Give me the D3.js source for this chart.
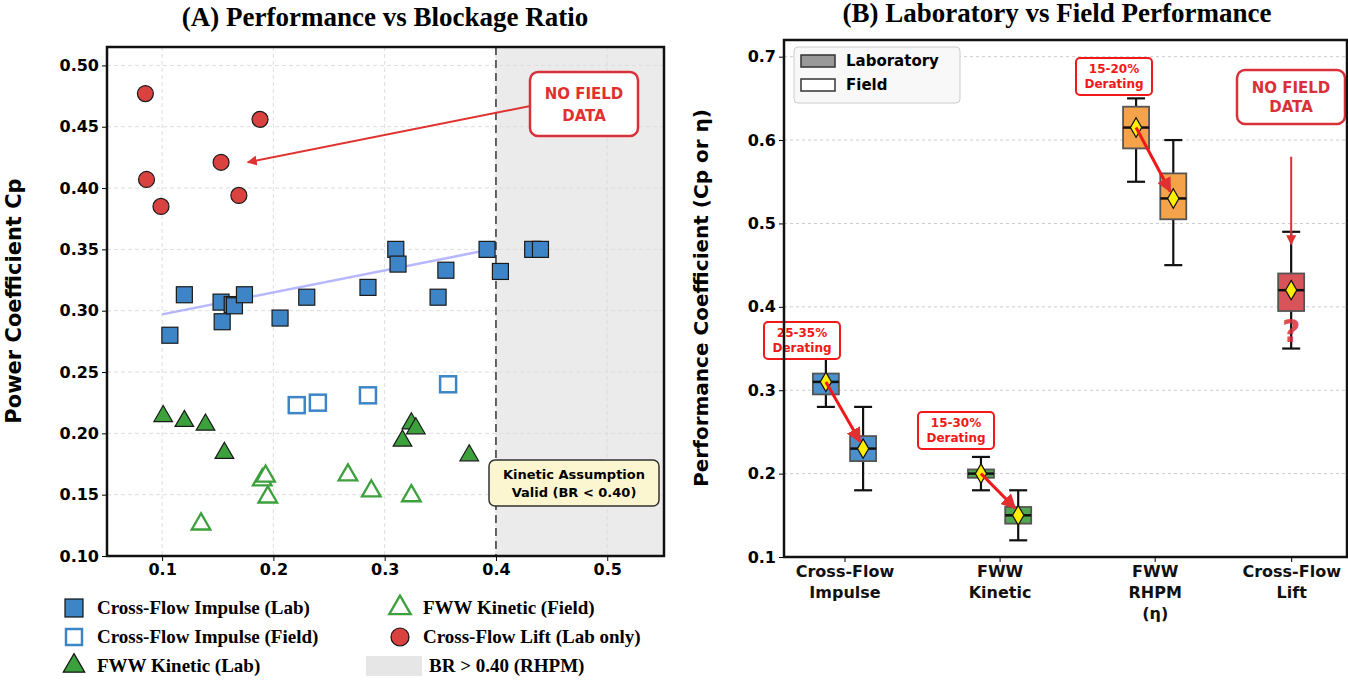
<!DOCTYPE html>
<html><head><meta charset="utf-8">
<script src="https://cdn.jsdelivr.net/npm/d3@7"></script>
<style>
body{margin:0;background:#fff;}
text{font-family:"DejaVu Sans",sans-serif;}
.serif{font-family:"Liberation Serif",serif;font-weight:bold;}
</style></head><body>
<svg id="chart" width="1348" height="687"></svg>
<script>
/* data */
const liftLab = [[0.085,0.477],[0.086,0.407],[0.099,0.385],[0.153,0.421],[0.169,0.394],[0.188,0.456]];
const impulseLab = [[0.107,0.280],[0.120,0.313],[0.153,0.307],[0.154,0.291],[0.163,0.305],[0.165,0.304],[0.174,0.313],[0.206,0.294],[0.230,0.311],[0.285,0.319],[0.310,0.350],[0.312,0.338],[0.348,0.311],[0.355,0.333],[0.392,0.350],[0.404,0.332],[0.433,0.350],[0.440,0.350]];
const impulseField = [[0.221,0.223],[0.240,0.225],[0.285,0.231],[0.357,0.240]];
const kineticLab = [[0.101,0.214],[0.120,0.210],[0.139,0.207],[0.156,0.184],[0.316,0.194],[0.324,0.208],[0.328,0.204],[0.376,0.182]];
const kineticField = [[0.135,0.126],[0.190,0.162],[0.193,0.165],[0.195,0.148],[0.267,0.166],[0.288,0.153],[0.324,0.149]];
const trend = [[0.10,0.297],[0.39,0.349]];
const xTicksA = [0.1,0.2,0.3,0.4,0.5];
const yTicksA = [0.10,0.15,0.20,0.25,0.30,0.35,0.40,0.45,0.50];

const categories = ["Cross-Flow\nImpulse","FWW\nKinetic","FWW\nRHPM\n(η)","Cross-Flow\nLift"];
// [group, kind, min, q1, median, q3, max, mean]
const boxStats = [
  [0,"lab",0.28,0.295,0.31,0.32,0.35,0.31],
  [0,"field",0.18,0.215,0.23,0.245,0.28,0.23],
  [1,"lab",0.18,0.195,0.20,0.205,0.22,0.20],
  [1,"field",0.12,0.14,0.15,0.16,0.18,0.15],
  [2,"lab",0.55,0.59,0.615,0.64,0.65,0.615],
  [2,"field",0.45,0.505,0.53,0.56,0.60,0.53],
  [3,"lab",0.35,0.395,0.42,0.44,0.49,0.42]
];
const boxColors = ["#4a90cc","#4fa84f","#f5a34b","#d9545a"];
const deratingLabels = [["25-35%","Derating"],["15-30%","Derating"],["15-20%","Derating"]];
const yTicksB = [0.1,0.2,0.3,0.4,0.5,0.6,0.7];

const svg = d3.select("#chart");
const defs = svg.append("defs");
function marker(id,color){
  defs.append("marker").attr("id",id).attr("viewBox","0 0 10 10").attr("refX",9).attr("refY",5)
    .attr("markerWidth",5).attr("markerHeight",5).attr("orient","auto")
    .append("path").attr("d","M0,0L10,5L0,10z").attr("fill",color);
}
marker("arrR","#e03030");

/* ---------- PANEL A ---------- */
const A = {l:107,t:47,r:664,b:556};
const xA = d3.scaleLinear().domain([0.0505,0.551]).range([A.l,A.r]);
const yA = d3.scaleLinear().domain([0.10,0.515]).range([A.b,A.t]);
const gA = svg.append("g");

gA.append("rect").attr("x",xA(0.4)).attr("y",A.t).attr("width",A.r-xA(0.4)).attr("height",A.b-A.t).attr("fill","#ebebeb");
gA.append("g").selectAll("line").data(xTicksA).join("line")
  .attr("x1",d=>xA(d)).attr("x2",d=>xA(d)).attr("y1",A.t).attr("y2",A.b)
  .attr("stroke","#ddd").attr("stroke-dasharray","4,3");
gA.append("g").selectAll("line").data(yTicksA).join("line")
  .attr("x1",A.l).attr("x2",A.r).attr("y1",d=>yA(d)).attr("y2",d=>yA(d))
  .attr("stroke","#ddd").attr("stroke-dasharray","4,3");
gA.append("line").attr("x1",xA(0.4)).attr("x2",xA(0.4)).attr("y1",A.t).attr("y2",A.b)
  .attr("stroke","#555").attr("stroke-width",1.8).attr("stroke-dasharray","8,5");

gA.append("path").datum(trend).attr("d",d3.line().x(d=>xA(d[0])).y(d=>yA(d[1])))
  .attr("stroke","#9999ff").attr("stroke-width",2.5).attr("opacity",0.7).attr("fill","none");

const sq = 16;
gA.selectAll(".il").data(impulseLab).join("rect")
  .attr("x",d=>xA(d[0])-sq/2).attr("y",d=>yA(d[1])-sq/2).attr("width",sq).attr("height",sq)
  .attr("fill","#3d85c6").attr("stroke","#1a1a1a").attr("stroke-width",1.2);
gA.selectAll(".if").data(impulseField).join("rect")
  .attr("x",d=>xA(d[0])-sq/2).attr("y",d=>yA(d[1])-sq/2).attr("width",sq).attr("height",sq)
  .attr("fill","#fff").attr("stroke","#3d85c6").attr("stroke-width",2.5);
const tri = d3.symbol().type(d3.symbolTriangle).size(150);
gA.selectAll(".kl").data(kineticLab).join("path").attr("d",tri)
  .attr("transform",d=>`translate(${xA(d[0])},${yA(d[1])})`)
  .attr("fill","#3ca03c").attr("stroke","#1a1a1a").attr("stroke-width",1.2);
gA.selectAll(".kf").data(kineticField).join("path").attr("d",tri)
  .attr("transform",d=>`translate(${xA(d[0])},${yA(d[1])})`)
  .attr("fill","#fff").attr("stroke","#3ca03c").attr("stroke-width",2.3);
gA.selectAll(".ll").data(liftLab).join("circle")
  .attr("cx",d=>xA(d[0])).attr("cy",d=>yA(d[1])).attr("r",8)
  .attr("fill","#d9423f").attr("stroke","#1a1a1a").attr("stroke-width",1.2);

// annotations
gA.append("line").attr("x1",xA(0.47)).attr("y1",yA(0.474)).attr("x2",xA(0.177)).attr("y2",yA(0.421))
  .attr("stroke","#e03030").attr("stroke-width",2).attr("marker-end","url(#arrR)");
gA.append("rect").attr("x",530).attr("y",72).attr("width",108).attr("height",64).attr("rx",8)
  .attr("fill","#fff").attr("stroke","#d9303a").attr("stroke-width",2.5);
gA.append("text").attr("x",584).attr("y",99).attr("text-anchor","middle").attr("fill","#e03030")
  .attr("font-size",15).attr("font-weight","bold").text("NO FIELD");
gA.append("text").attr("x",584).attr("y",121).attr("text-anchor","middle").attr("fill","#e03030")
  .attr("font-size",15).attr("font-weight","bold").text("DATA");
gA.append("rect").attr("x",489).attr("y",460).attr("width",170).attr("height",46).attr("rx",6)
  .attr("fill","#fbf6d0").attr("stroke","#333").attr("stroke-width",1.5);
gA.append("text").attr("x",574).attr("y",479).attr("text-anchor","middle").attr("font-size",13).attr("font-weight","bold").text("Kinetic Assumption");
gA.append("text").attr("x",574).attr("y",497).attr("text-anchor","middle").attr("font-size",13).attr("font-weight","bold").text("Valid (BR < 0.40)");

gA.append("g").attr("transform",`translate(0,${A.b})`)
  .call(d3.axisBottom(xA).tickValues(xTicksA).tickFormat(d3.format(".1f")).tickSize(5))
  .call(g=>g.select(".domain").remove())
  .selectAll("text").attr("font-size",16).attr("font-weight","bold").attr("font-family","DejaVu Sans");
gA.append("g").attr("transform",`translate(${A.l},0)`)
  .call(d3.axisLeft(yA).tickValues(yTicksA).tickFormat(d3.format(".2f")).tickSize(5))
  .call(g=>g.select(".domain").remove())
  .selectAll("text").attr("font-size",16).attr("font-weight","bold").attr("font-family","DejaVu Sans");
gA.append("rect").attr("x",A.l).attr("y",A.t).attr("width",A.r-A.l).attr("height",A.b-A.t)
  .attr("fill","none").attr("stroke","#111").attr("stroke-width",2.5);
gA.append("text").attr("class","serif").attr("x",385).attr("y",26).attr("text-anchor","middle").attr("font-size",27)
  .text("(A) Performance vs Blockage Ratio");
gA.append("text").attr("transform","translate(21,301) rotate(-90)").attr("text-anchor","middle")
  .attr("font-size",21).attr("font-weight","bold").text("Power Coefficient Cp");

// legend A
const legA = svg.append("g");
const legItems = [
  {x:74,y:608,label:"Cross-Flow Impulse (Lab)",k:"sq"},
  {x:74,y:637,label:"Cross-Flow Impulse (Field)",k:"sqo"},
  {x:74,y:666,label:"FWW Kinetic (Lab)",k:"tri"},
  {x:400,y:608,label:"FWW Kinetic (Field)",k:"trio"},
  {x:400,y:637,label:"Cross-Flow Lift (Lab only)",k:"circ"},
  {x:400,y:666,label:"BR > 0.40 (RHPM)",k:"band"}
];
legItems.forEach(d=>{
  const g = legA.append("g").attr("transform",`translate(${d.x},${d.y})`);
  if(d.k==="sq") g.append("rect").attr("x",-9).attr("y",-9).attr("width",18).attr("height",18).attr("fill","#3d85c6").attr("stroke","#111").attr("stroke-width",1.2);
  if(d.k==="sqo") g.append("rect").attr("x",-8).attr("y",-8).attr("width",16).attr("height",16).attr("fill","#fff").attr("stroke","#3d85c6").attr("stroke-width",2.5);
  if(d.k==="tri") g.append("path").attr("d",d3.symbol().type(d3.symbolTriangle).size(200)).attr("fill","#3ca03c").attr("stroke","#111").attr("stroke-width",1.2);
  if(d.k==="trio") g.append("path").attr("d",d3.symbol().type(d3.symbolTriangle).size(200)).attr("fill","#fff").attr("stroke","#3ca03c").attr("stroke-width",2.3);
  if(d.k==="circ") g.append("circle").attr("r",9).attr("fill","#d9423f").attr("stroke","#111").attr("stroke-width",1.2);
  if(d.k==="band") g.append("rect").attr("x",-34).attr("y",-10).attr("width",56).attr("height",20).attr("fill","#e6e6e6");
  g.append("text").attr("class","serif").attr("x",d.k==="band"?29:23).attr("y",6).attr("font-size",19).text(d.label);
});

/* ---------- PANEL B ---------- */
const B = {l:784,t:40,r:1347,b:557};
const xB = d3.scaleLinear().domain([-0.39,3.24]).range([B.l,B.r]);
const yB = d3.scaleLinear().domain([0.1,0.72]).range([B.b,B.t]);
const gB = svg.append("g");
const off = {lab:-0.12,field:0.12};
const bw = 26;

gB.append("g").selectAll("line").data(yTicksB.slice(1)).join("line")
  .attr("x1",B.l).attr("x2",B.r).attr("y1",d=>yB(d)).attr("y2",d=>yB(d))
  .attr("stroke","#ccc").attr("stroke-dasharray","3,3");

const boxes = gB.selectAll(".box").data(boxStats).join("g")
  .attr("transform",d=>`translate(${xB(d[0]+off[d[1]])},0)`);
boxes.append("line").attr("y1",d=>yB(d[2])).attr("y2",d=>yB(d[3])).attr("stroke","#111").attr("stroke-width",2.2);
boxes.append("line").attr("y1",d=>yB(d[5])).attr("y2",d=>yB(d[6])).attr("stroke","#111").attr("stroke-width",2.2);
boxes.append("line").attr("x1",-9).attr("x2",9).attr("y1",d=>yB(d[2])).attr("y2",d=>yB(d[2])).attr("stroke","#111").attr("stroke-width",2.2);
boxes.append("line").attr("x1",-9).attr("x2",9).attr("y1",d=>yB(d[6])).attr("y2",d=>yB(d[6])).attr("stroke","#111").attr("stroke-width",2.2);
boxes.append("rect").attr("x",-bw/2).attr("width",bw).attr("y",d=>yB(d[5])).attr("height",d=>yB(d[3])-yB(d[5]))
  .attr("fill",d=>boxColors[d[0]]).attr("stroke","#555").attr("stroke-width",1.8);
boxes.append("line").attr("x1",-bw/2).attr("x2",bw/2).attr("y1",d=>yB(d[4])).attr("y2",d=>yB(d[4])).attr("stroke","#111").attr("stroke-width",2.5);

// derating arrows
[0,1,2].forEach(i=>{
  const lab = boxStats.find(d=>d[0]===i&&d[1]==="lab"), fld = boxStats.find(d=>d[0]===i&&d[1]==="field");
  gB.append("line").attr("x1",xB(i+off.lab)).attr("y1",yB(lab[7]))
    .attr("x2",xB(i+off.field)-3).attr("y2",yB(fld[7])-7)
    .attr("stroke","#f01818").attr("stroke-width",3).attr("marker-end","url(#arrR)");
});
boxes.append("path").attr("d",d3.symbol().type(d3.symbolDiamond).size(110))
  .attr("transform",d=>`translate(0,${yB(d[7])})`).attr("fill","#ffee00").attr("stroke","#111").attr("stroke-width",1.2);

const labPos = [[764,322],[918,412],[1076,58]];
deratingLabels.forEach((t,i)=>{
  const g = gB.append("g").attr("transform",`translate(${labPos[i][0]},${labPos[i][1]})`);
  g.append("rect").attr("width",76).attr("height",37).attr("rx",4).attr("fill","#fff").attr("stroke","#f01818").attr("stroke-width",2);
  g.append("text").attr("x",38).attr("y",15).attr("text-anchor","middle").attr("fill","#f01818").attr("font-size",12).attr("font-weight","bold").text(t[0]);
  g.append("text").attr("x",38).attr("y",30).attr("text-anchor","middle").attr("fill","#f01818").attr("font-size",12).attr("font-weight","bold").text(t[1]);
});
gB.append("rect").attr("x",1237).attr("y",70).attr("width",108).attr("height",54).attr("rx",8)
  .attr("fill","#fff").attr("stroke","#d9303a").attr("stroke-width",2.5);
gB.append("text").attr("x",1291).attr("y",93).attr("text-anchor","middle").attr("fill","#d9303a").attr("font-size",15).attr("font-weight","bold").text("NO FIELD");
gB.append("text").attr("x",1291).attr("y",112).attr("text-anchor","middle").attr("fill","#d9303a").attr("font-size",15).attr("font-weight","bold").text("DATA");
gB.append("line").attr("x1",xB(3+off.lab)).attr("x2",xB(3+off.lab)).attr("y1",yB(0.58)).attr("y2",yB(0.475))
  .attr("stroke","#d9303a").attr("stroke-width",2).attr("marker-end","url(#arrR)");
gB.append("text").attr("x",xB(3+off.lab)).attr("y",yB(0.358)).attr("text-anchor","middle")
  .attr("fill","#d9303a").attr("font-size",32).attr("font-weight","bold").attr("opacity",0.85).text("?");

gB.append("g").attr("transform",`translate(${B.l},0)`)
  .call(d3.axisLeft(yB).tickValues(yTicksB).tickFormat(d3.format(".1f")).tickSize(5))
  .call(g=>g.select(".domain").remove())
  .selectAll("text").attr("font-size",16).attr("font-weight","bold").attr("font-family","DejaVu Sans");
const xAxB = gB.append("g").attr("transform",`translate(0,${B.b})`)
  .call(d3.axisBottom(xB).tickValues([0,1,2,2.88]).tickFormat(()=>"").tickSize(5));
xAxB.select(".domain").remove();
xAxB.selectAll(".tick").each(function(d,i){
  const t = d3.select(this).append("text").attr("fill","#111").attr("font-size",16).attr("font-weight","bold").attr("text-anchor","middle");
  categories[i].split("\n").forEach((s,j)=>t.append("tspan").attr("x",0).attr("y",20+j*21).text(s));
});
gB.append("rect").attr("x",B.l).attr("y",B.t).attr("width",B.r-B.l).attr("height",B.b-B.t)
  .attr("fill","none").attr("stroke","#111").attr("stroke-width",2.5);
gB.append("text").attr("class","serif").attr("x",1057).attr("y",22).attr("text-anchor","middle").attr("font-size",27)
  .text("(B) Laboratory vs Field Performance");
gB.append("text").attr("transform","translate(708,298) rotate(-90)").attr("text-anchor","middle")
  .attr("font-size",20).attr("font-weight","bold").text("Performance Coefficient (Cp or η)");

// legend B
const legB = gB.append("g").attr("transform","translate(794,47)");
legB.append("rect").attr("width",166).attr("height",56).attr("rx",4).attr("fill","#f8f8f8").attr("stroke","#ccc");
[["Laboratory","#999"],["Field","#fff"]].forEach((d,i)=>{
  legB.append("rect").attr("x",7).attr("y",8+i*24).attr("width",34).attr("height",12).attr("fill",d[1]).attr("stroke","#333").attr("stroke-width",1.5);
  legB.append("text").attr("x",52).attr("y",19+i*24).attr("font-size",15).attr("font-weight","bold").text(d[0]);
});
</script>
</body></html>
